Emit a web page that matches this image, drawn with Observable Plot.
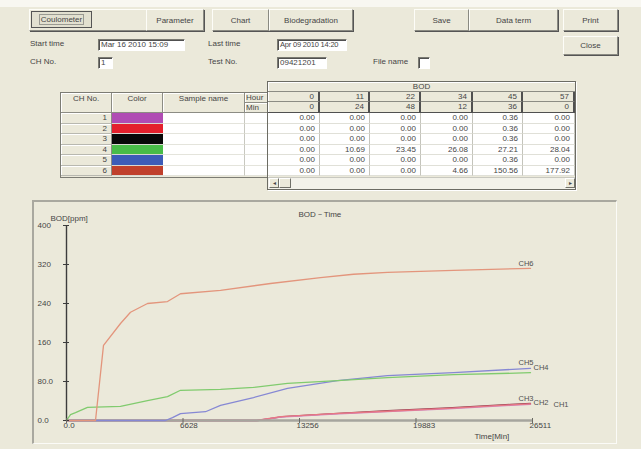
<!DOCTYPE html>
<html><head><meta charset="utf-8">
<script src="https://cdn.jsdelivr.net/npm/d3@7"></script>
<script src="https://cdn.jsdelivr.net/npm/@observablehq/plot@0.6"></script>
<style>
body{margin:0;width:641px;height:449px;background:#ebe9da;position:relative;overflow:hidden;font-family:"Liberation Sans",Arial,sans-serif;font-size:8px;color:#454545;}
.btn{position:absolute;box-sizing:border-box;border:1px solid;border-color:#fdfdf8 #8a8a82 #8a8a82 #fdfdf8;box-shadow:1px 1px 0 #555;display:flex;align-items:center;justify-content:center;background:#ebe9da;white-space:nowrap;}
.inp{position:absolute;box-sizing:border-box;background:#fff;border:1px solid;border-color:#7a7a72 #fff #fff #7a7a72;box-shadow:inset 1px 1px 0 #505050;padding-left:2px;line-height:10px;white-space:nowrap;overflow:hidden;}
.lbl{position:absolute;white-space:nowrap;line-height:10px;}
</style>
</head><body>
<div style="position:absolute;left:0;top:0;width:641px;height:7px;background:#f8f7f1"></div>

<div class="btn" style="left:29px;top:9px;width:175px;height:22px;"></div>
<div style="position:absolute;left:31px;top:11px;width:61px;height:17px;box-sizing:border-box;border:1px solid #555;background:#e2e0d0;display:flex;align-items:center;justify-content:center"><span style="border:1px solid #9a9a92;padding:0 1px;line-height:9px">Coulometer</span></div>
<div class="btn" style="left:146px;top:9px;width:58px;height:22px;">Parameter</div>
<div class="btn" style="left:212px;top:9px;width:57px;height:22px;">Chart</div>
<div class="btn" style="left:269px;top:9px;width:84px;height:22px;">Biodegradation</div>
<div class="btn" style="left:414px;top:9px;width:55px;height:22px;">Save</div>
<div class="btn" style="left:469px;top:9px;width:89px;height:22px;">Data term</div>
<div class="btn" style="left:563px;top:9px;width:55px;height:22px;">Print</div>
<div class="btn" style="left:563px;top:36px;width:55px;height:19px;">Close</div>

<div class="lbl" style="left:30px;top:39px">Start time</div>
<div class="inp" style="left:98px;top:39px;width:87px;height:12px">Mar 16 2010 15:09</div>
<div class="lbl" style="left:208px;top:39px">Last time</div>
<div class="inp" style="left:277px;top:39px;width:70px;height:12px;font-size:7.5px;letter-spacing:-0.2px">Apr 09 2010 14:20</div>
<div class="lbl" style="left:30px;top:57px">CH No.</div>
<div class="inp" style="left:98px;top:57px;width:15px;height:12px">1</div>
<div class="lbl" style="left:208px;top:57px">Test No.</div>
<div class="inp" style="left:277px;top:57px;width:50px;height:12px">09421201</div>
<div class="lbl" style="left:373px;top:57px">File name</div>
<div class="inp" style="left:418px;top:57px;width:12px;height:12px"></div>

<script>
// ---------- table data ----------
const chNumbers = [1, 2, 3, 4, 5, 6];
const chColors = ["#b04cb4", "#e4202c", "#080808", "#48bc48", "#3c5cb8", "#c0402c"];
const hourLabels = [0, 11, 22, 34, 45, 57];
const minLabels = [0, 24, 48, 12, 36, 0];
const bodCH1 = ["0.00", "0.00", "0.00", "0.00", "0.36", "0.00"];
const bodCH2 = ["0.00", "0.00", "0.00", "0.00", "0.36", "0.00"];
const bodCH3 = ["0.00", "0.00", "0.00", "0.00", "0.36", "0.00"];
const bodCH4 = ["0.00", "10.69", "23.45", "26.08", "27.21", "28.04"];
const bodCH5 = ["0.00", "0.00", "0.00", "0.00", "0.36", "0.00"];
const bodCH6 = ["0.00", "0.00", "0.00", "4.66", "150.56", "177.92"];

// ---------- chart data ----------
const seriesNames = ["CH1", "CH2", "CH3", "CH4", "CH5", "CH6"];
const timeCH1 = [0, 10800, 12200, 15200, 18260, 21700, 25260, 26398];
const valCH1  = [0, 0, 7, 13, 18, 24, 31, 33];
const timeCH2 = [0, 10800, 12200, 15200, 18260, 21700, 25260, 26398];
const valCH2  = [0, 0, 8, 14, 19, 25, 32, 34];
const timeCH3 = [0, 10900, 12300, 15200, 18260, 21700, 25260, 26398];
const valCH3  = [0, 0, 8, 14, 20, 26, 33, 35];
const timeCH4 = [0, 228, 512, 1195, 3072, 4608, 5746, 6486, 8761, 10638, 12573, 15417, 18262, 22016, 26398];
const valCH4  = [0, 12, 16, 27, 29, 41, 49, 62, 64, 68, 76, 82, 88, 94, 98];
const timeCH5 = [0, 5632, 6030, 6486, 7908, 8761, 10638, 12573, 15417, 18262, 22016, 26398];
const valCH5  = [0, 0, 6, 14, 18, 31, 47, 66, 82, 92, 98, 107];
const timeCH6 = [0, 1650, 2105, 3072, 3641, 4608, 5746, 6486, 8761, 11606, 14450, 16327, 18262, 22016, 26398];
const valCH6  = [0, 0, 154, 199, 222, 240, 244, 260, 267, 281, 293, 300, 304, 308, 312];
const yTicks = [0, 80, 160, 240, 320, 400];
const yTickLabels = ["0.0", "80.0", "160", "240", "320", "400"];
const xTicks = [0, 6628, 13256, 19883, 26511];
const xTickLabels = ["0.0", "6628", "13256", "19883", "26511"];

// ---------- styles ----------
const lineColors = ["#cf86c0", "#e87884", "#8e3a4c", "#80cb6e", "#8688d4", "#e3957c"];
const labelOffsets = {CH1: [23, 0], CH2: [3, -1], CH3: [-12, -5], CH4: [3, -5], CH5: [-12, -6], CH6: [-12, -5]};

function box(l, t, w, h, css, text) {
  const d = document.createElement("div");
  d.style.cssText = `position:absolute;left:${l}px;top:${t}px;width:${w}px;height:${h}px;box-sizing:border-box;line-height:10px;white-space:nowrap;overflow:hidden;${css}`;
  if (text != null) d.textContent = text;
  document.body.appendChild(d);
  return d;
}

// left table
const bodRows = [bodCH1, bodCH2, bodCH3, bodCH4, bodCH5, bodCH6];
box(60, 92, 212, 86, "border:1px solid #7c7c74;background:#ebe9da");
const hdr = "border-right:1px solid #8c8c84;border-bottom:1px solid #8c8c84;box-shadow:inset 1px 1px 0 #fff;text-align:center;padding-top:1px;";
box(61, 93, 51, 20, hdr, "CH No.");
box(112, 93, 51, 20, hdr, "Color");
box(163, 93, 82, 20, hdr, "Sample name");
box(245, 93, 27, 10, hdr + "text-align:left;padding-left:1px;padding-top:0", "Hour");
box(245, 103, 27, 10, hdr + "text-align:left;padding-left:1px;padding-top:0", "Min");
const rowH = 10.5;
chNumbers.forEach((n, i) => {
  const y = 113 + i * rowH;
  box(61, y, 51, rowH, "border-right:1px solid #8c8c84;border-bottom:1px solid #b8b8b0;box-shadow:inset 1px 1px 0 #fff;text-align:right;padding-right:4px;", n);
  box(112, y, 51, rowH, `background:${chColors[i]};border-bottom:1px solid #d8d8d0;`);
  box(163, y, 82, rowH, "background:#fff;border-right:1px solid #c8c8c0;border-bottom:1px solid #e4e4dc;");
  box(245, y, 27, rowH, "background:#fff;border-bottom:1px solid #e4e4dc;");
});

// BOD panel
box(267, 81, 309, 109, "border:1px solid #6c6c64;background:#ebe9da;box-shadow:1px 1px 0 #fff, inset 1px 1px 0 #fff");
box(268, 82, 307, 10, "text-align:center;border-bottom:1px solid #8c8c84;", "BOD");
const colX = [268, 320, 370, 421, 473, 523, 575];
for (let j = 0; j < 6; j++) {
  const x0 = colX[j], w = colX[j + 1] - colX[j];
  box(x0, 92, w, 10, "border-right:2px solid #505050;border-bottom:1px solid #8c8c84;text-align:right;padding-right:4px;", hourLabels[j]);
  box(x0, 102, w, 11, "border-right:2px solid #505050;border-bottom:1px solid #505050;text-align:right;padding-right:4px;", minLabels[j]);
  bodRows.forEach((r, i) => {
    box(x0, 113 + i * rowH, w, rowH, "background:#fff;border-right:1px solid #c4c4bc;border-bottom:1px solid #e0e0d8;text-align:right;padding-right:4px;", r[j]);
  });
}
box(268, 177, 307, 12, "background:#f3f2ea;border-top:1px solid #c8c8c0");
box(269, 178, 10, 10, "border:1px solid;border-color:#fff #707068 #707068 #fff;background:#ebe9da;font-size:6px;text-align:center;line-height:8px", "◂");
box(279, 178, 12, 10, "border:1px solid;border-color:#fff #707068 #707068 #fff;background:#ebe9da;");
box(565, 178, 10, 10, "border:1px solid;border-color:#fff #707068 #707068 #fff;background:#ebe9da;font-size:6px;text-align:center;line-height:8px", "▸");

// chart panel frame
box(32, 200, 585, 244, "border-top:2px solid #a9a89f;border-left:2px solid #a9a89f;border-right:1px solid #fbfbf7;border-bottom:1px solid #fbfbf7;");

// ---------- chart ----------
const times = [timeCH1, timeCH2, timeCH3, timeCH4, timeCH5, timeCH6];
const vals = [valCH1, valCH2, valCH3, valCH4, valCH5, valCH6];
const rows = seriesNames.map((name, k) => times[k].map((t, i) => ({ch: name, t, v: vals[k][i]})));
const ends = rows.map(r => r[r.length - 1]);
const lineOpts = {x: "t", y: "v", z: "ch", stroke: "ch", strokeWidth: 1.3, curve: "linear"};

const chart = Plot.plot({
  width: 585, height: 244,
  marginLeft: 34, marginRight: 85, marginTop: 25, marginBottom: 24,
  x: {domain: [0, 26511], label: null},
  y: {domain: [0, 400], label: null},
  color: {domain: seriesNames, range: lineColors},
  marks: [
    Plot.line(rows[2], lineOpts),
    Plot.line(rows[0], lineOpts),
    Plot.line(rows[1], lineOpts),
    Plot.ruleY([0], {stroke: "#a6a59e", strokeWidth: 2.5}),
    Plot.line(rows[4], lineOpts),
    Plot.line(rows[3], lineOpts),
    Plot.line(rows[5], lineOpts),
    Plot.ruleX([0], {stroke: "#3c3c3c", strokeWidth: 1.4}),
    Plot.axisY({ticks: yTicks, tickSize: 6, dx: 3, stroke: "#3c3c3c", fill: "none", label: null}),
    Plot.axisX({ticks: xTicks, tickSize: 5, dy: -2, stroke: "#6a6a64", fill: "none", label: null}),
    Plot.text(yTicks, {y: d => d, text: (d, i) => yTickLabels[i], frameAnchor: "left", textAnchor: "start", dx: -29, fontSize: 8, fill: "#454545"}),
    Plot.text(xTicks, {x: d => d, text: (d, i) => xTickLabels[i], frameAnchor: "bottom", textAnchor: "start", dx: -3, dy: 7, fontSize: 8, fill: "#454545"}),
    Plot.text(["BOD－Time"], {frameAnchor: "top", textAnchor: "start", dx: -1, dy: -14, fontSize: 8, fill: "#454545"}),
    Plot.text(["BOD[ppm]"], {frameAnchor: "top-left", textAnchor: "start", dx: -16, dy: -10, fontSize: 8, fill: "#454545"}),
    Plot.text(["Time[Min]"], {frameAnchor: "bottom-right", textAnchor: "start", dx: -58, dy: 18, fontSize: 8, fill: "#454545"}),
    ...ends.map(e => Plot.text([e], {x: "t", y: "v", text: "ch", textAnchor: "start", dx: labelOffsets[e.ch][0], dy: labelOffsets[e.ch][1], fontSize: 7.5, fill: "#505050"}))
  ]
});
chart.setAttribute("style", "position:absolute;left:32px;top:200px;background:transparent;overflow:visible;max-width:none;font-family:'Liberation Sans',Arial,sans-serif;");
document.body.appendChild(chart);
</script>
</body></html>
